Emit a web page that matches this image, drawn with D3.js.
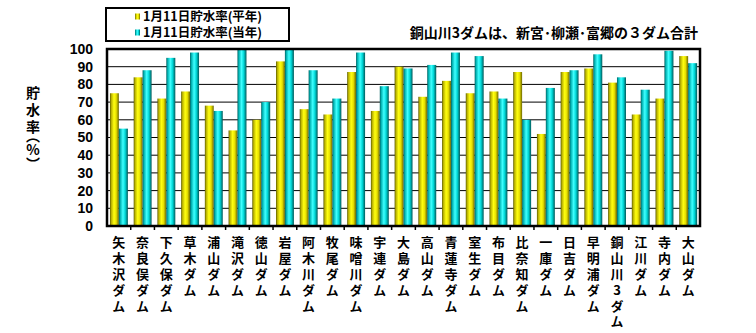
<!DOCTYPE html>
<html><head><meta charset="utf-8">
<script src="https://cdn.jsdelivr.net/npm/d3@7"></script>
<style>body{margin:0;background:#fff}svg{display:block}
.vt{writing-mode:vertical-rl;text-orientation:upright;}
</style>
</head><body>
<svg id="c" width="756" height="333"></svg>
<script>
const dams = ["矢木沢ダム","奈良俣ダム","下久保ダム","草木ダム","浦山ダム","滝沢ダム","徳山ダム","岩屋ダム","阿木川ダム","牧尾ダム","味噌川ダム","宇連ダム","大島ダム","高山ダム","青蓮寺ダム","室生ダム","布目ダム","比奈知ダム","一庫ダム","日吉ダム","早明浦ダム","銅山川3ダム","江川ダム","寺内ダム","大山ダム"];
const normalRate = [75,84,72,76,68,54,60,93,66,63,87,65,90,73,82,75,76,87,52,87,89,81,63,72,96];
const currentRate = [55,88,95,98,65,100,70,100,88,72,98,79,89,91,98,96,72,60,78,88,97,84,77,99,92];
const yTicks = [0,10,20,30,40,50,60,70,80,90,100];
const seriesNames = ["1月11日貯水率(平年)","1月11日貯水率(当年)"];
const note = "銅山川3ダムは、新宮･柳瀬･富郷の３ダム合計";
const yTitleMain = "貯水率";
const yTitleUnit = ["︵","%","︶"];

const svg = d3.select("#c");
const L=107, T=49, W=593, H=177;
const FONT = "'Noto Sans CJK JP', sans-serif";
const NUMFONT = "'Liberation Sans', Arial, sans-serif";

const defs = svg.append("defs");
function grad(id, stops){
  const g = defs.append("linearGradient").attr("id",id).attr("x1","0").attr("x2","1").attr("y1","0").attr("y2","0");
  stops.forEach(s=>g.append("stop").attr("offset",s[0]).attr("stop-color",s[1]));
}
grad("gy",[[0,"#5a5a00"],[0.15,"#b8b000"],[0.45,"#ffff10"],[0.7,"#e8e000"],[1,"#6a6600"]]);
grad("gc",[[0,"#006060"],[0.15,"#00b0b0"],[0.45,"#40ffff"],[0.7,"#00d8d8"],[1,"#005858"]]);

const x = d3.scaleBand().domain(dams).range([L, L+W]).padding(0);
const y = d3.scaleLinear().domain([0,100]).range([T+H, T]);
const bw = x.bandwidth();

// gridlines
svg.append("g").selectAll("line").data(yTicks.filter(d=>d>0)).join("line")
  .attr("x1",L).attr("x2",L+W).attr("y1",d=>y(d)).attr("y2",d=>y(d))
  .attr("stroke","#000").attr("stroke-width",1);

// bars
const g = svg.append("g");
g.selectAll("rect.n").data(normalRate).join("rect").attr("class","n")
  .attr("x",(d,i)=>x(dams[i])+bw*0.125).attr("width",bw*0.375)
  .attr("y",d=>y(d)).attr("height",d=>y(0)-y(d)).attr("fill","url(#gy)");
g.selectAll("rect.c").data(currentRate).join("rect").attr("class","c")
  .attr("x",(d,i)=>x(dams[i])+bw*0.5).attr("width",bw*0.38)
  .attr("y",d=>y(d)).attr("height",d=>y(0)-y(d)).attr("fill","url(#gc)");

// plot border
svg.append("rect").attr("x",L).attr("y",T).attr("width",W).attr("height",H)
  .attr("fill","none").attr("stroke","#000").attr("stroke-width",2.5);

// y axis labels
const ya = svg.append("g").attr("transform",`translate(${L},0)`)
  .call(d3.axisLeft(y).tickValues(yTicks).tickSize(0).tickPadding(14));
ya.select(".domain").remove();
ya.selectAll("text").attr("font-family",NUMFONT).attr("font-weight","bold").attr("font-size",14).attr("fill","#000");

// x axis ticks at boundaries
const bounds = dams.slice(1).map(d=>x(d));
svg.append("g").selectAll("line").data(bounds).join("line")
  .attr("x1",d=>d).attr("x2",d=>d).attr("y1",T+H).attr("y2",T+H+4)
  .attr("stroke","#000").attr("stroke-width",1.5);

// x labels vertical
svg.append("g").selectAll("text").data(dams).join("text")
  .attr("class","vt")
  .attr("x",d=>x(d)+bw/2).attr("y",T+H+10)
  .attr("font-family",FONT).attr("font-weight","bold").attr("font-size",13)
  .attr("letter-spacing",2.8).attr("fill","#000").text(d=>d);

// y title (vertical)
const yt = svg.append("text").attr("class","vt").attr("x",33).attr("y",86)
  .attr("font-family",FONT).attr("font-weight","bold").attr("font-size",14)
  .attr("fill","#000");
yt.append("tspan").attr("letter-spacing",3).text(yTitleMain);
yt.append("tspan").attr("dy",-8).attr("letter-spacing",0).text(yTitleUnit[0]);
yt.append("tspan").attr("letter-spacing",0).text(yTitleUnit[1]);
yt.append("tspan").attr("letter-spacing",0).text(yTitleUnit[2]);

// legend
const lg = svg.append("g");
lg.append("rect").attr("x",106).attr("y",8).attr("width",183).attr("height",33)
  .attr("fill","#fff").attr("stroke","#000").attr("stroke-width",2);
const lc = ["url(#gy)","url(#gc)"];
seriesNames.forEach((s,i)=>{
  const cy = 16.5+i*16;
  lg.append("rect").attr("x",135).attr("y",cy-3).attr("width",5).attr("height",6).attr("fill",lc[i]);
  lg.append("text").attr("x",143).attr("y",cy+4.5).attr("font-family",FONT).attr("font-weight","bold")
    .attr("font-size",12.5).attr("fill","#000").text(s);
});

// note
svg.append("text").attr("x",698).attr("y",38).attr("text-anchor","end")
  .attr("font-family",FONT).attr("font-weight","bold").attr("font-size",14).attr("fill","#000").text(note);
</script>
</body></html>
